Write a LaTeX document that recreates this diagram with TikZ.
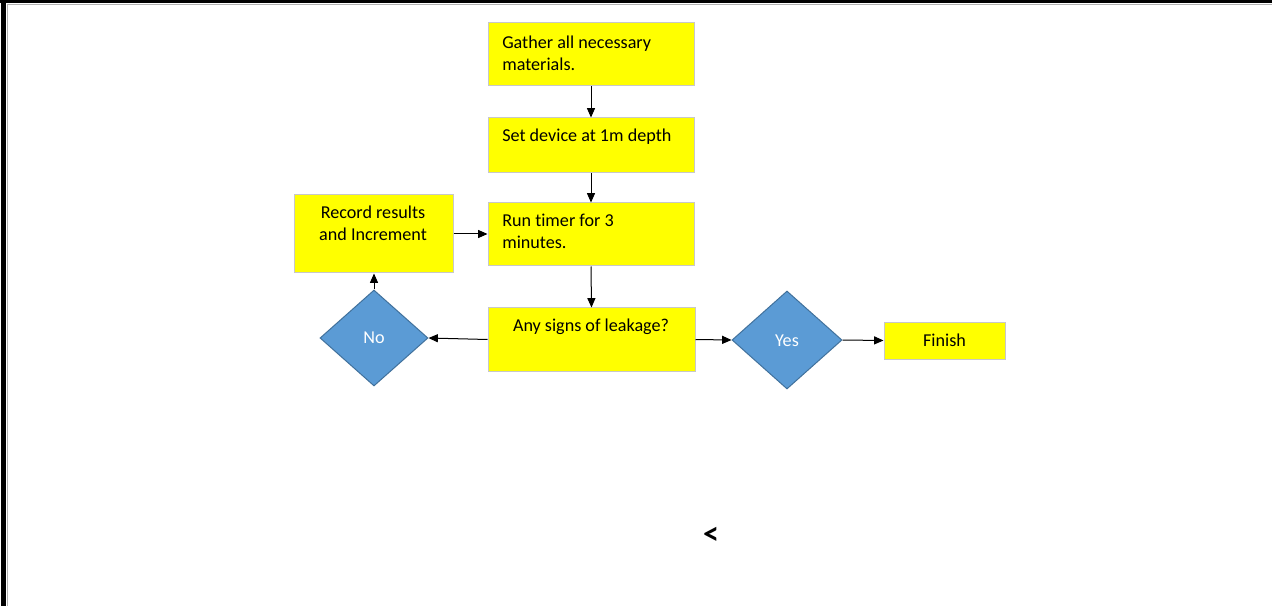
\documentclass[tikz,border=0pt]{standalone}
\usepackage{fontspec}
\setmainfont{Carlito}[RawFeature=-liga]
\usetikzlibrary{shapes.geometric,arrows.meta}
\definecolor{boxyellow}{HTML}{FFFF00}
\definecolor{boxedge}{HTML}{C8C8C8}
\definecolor{dfill}{HTML}{5B9BD5}
\definecolor{dedge}{HTML}{41719C}
\tikzset{
  stepbox/.style={draw=boxedge, line width=0.75pt, fill=boxyellow, inner sep=0pt},
  decbox/.style={diamond, draw=dedge, line width=0.75pt, fill=dfill, inner sep=0pt},
  txt/.style={inner sep=0pt, font=\fontsize{13.6}{16.8}\selectfont},
  dtxt/.style={inner sep=0pt, text=white, font=\fontsize{13.6}{16}\selectfont},
  conn/.style={draw=black, line width=0.75pt, -{Triangle[length=7pt,width=6pt]}},
}
\begin{document}
\begin{tikzpicture}[x=0.75pt,y=-0.75pt]
\useasboundingbox (0,0) rectangle (1272,606);
\fill[white] (0,0) rectangle (1272,606);
% frame
\fill[black] (0,0) rectangle (1272,3);
\fill[black] (1,0) rectangle (6,606);
\draw[gray!60, line width=0.5pt] (7,4) -- (7,606);
\draw[gray!60, line width=0.5pt] (7,4) -- (1272,4);

% boxes
\node[stepbox, minimum width=154.5pt, minimum height=47.25pt] (gather) at (591,54.5) {};
\node[stepbox, minimum width=154.5pt, minimum height=41.25pt] (setdev) at (591,145.5) {};
\node[stepbox, minimum width=154.5pt, minimum height=47.25pt] (run) at (591,234.5) {};
\node[stepbox, minimum width=119.25pt, minimum height=58.5pt] (record) at (373.5,234) {};
\node[stepbox, minimum width=155.25pt, minimum height=47.25pt] (any) at (591.5,339.5) {};
\node[stepbox, minimum width=90.75pt, minimum height=27.75pt] (finish) at (944.5,340.5) {};
\node[decbox, minimum width=81pt, minimum height=72pt] (no) at (374,338) {};
\node[decbox, minimum width=82.5pt, minimum height=73.5pt] (yes) at (787,340) {};

% texts
\node[txt, anchor=west, align=left] (tgather) at (502,53) {Gather all necessary\\materials.};
\node[txt, anchor=west, align=left] (tset) at (502,137) {Set device at 1m depth};
\node[txt, anchor=west, align=left] (trun) at (502,231.5) {Run timer for 3\\minutes.};
\node[txt, align=center] (trecord) at (373,223.5) {Record results\\and Increment};
\node[txt] (tany) at (591,327) {Any signs of leakage?};
\node[txt] (tfinish) at (944.5,340.5) {Finish};
\node[dtxt] (tno) at (374,338) {No};
\node[dtxt] (tyes) at (787,341) {Yes};
\node[inner sep=0pt, font=\bfseries\fontsize{24}{26}\selectfont] (lt) at (711,536) {<};

% connectors
\draw[conn] (gather.south) -- (setdev.north);
\draw[conn] (setdev.south) -- (run.north);
\draw[conn] (run.south) -- (any.north);
\draw[conn] (record.east) -- (run.west |- record.east);
\draw[conn] (any.west) -- (no.east);
\draw[conn] (no.north) -- (record.south -| no.north);
\draw[conn] (any.east) -- (yes.west);
\draw[conn] (yes.east) -- (finish.west);
\end{tikzpicture}
\end{document}
